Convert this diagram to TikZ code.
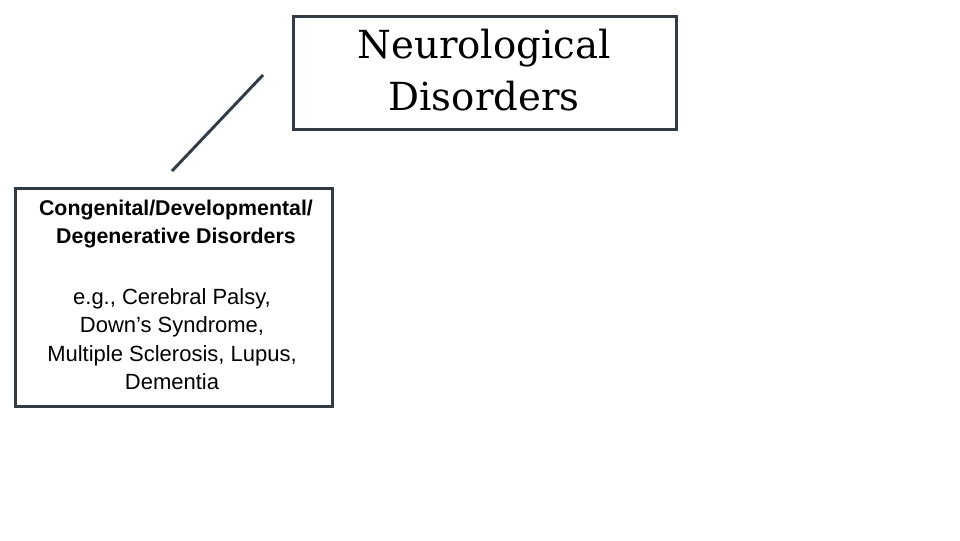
\documentclass[tikz,border=0pt]{standalone}
\usepackage{fontspec}
\setmainfont{Liberation Sans}
\newfontfamily\serifx{DejaVu Serif}
\definecolor{boxc}{HTML}{343A44}
\begin{document}
\begin{tikzpicture}[x=0.75pt,y=-0.75pt,
  boxs/.style={draw=boxc,line width=2.2pt,inner sep=0pt}]
\useasboundingbox (0,0) rectangle (960,540);
\node[boxs,minimum width=383*0.75pt,minimum height=113*0.75pt,anchor=north west] (top) at (292,15) {};
\node[align=center,font=\serifx\fontsize{29}{39}\selectfont,anchor=center] (toptxt) at (484,70) {Neurological\\Disorders};
\node[boxs,minimum width=317*0.75pt,minimum height=218*0.75pt,anchor=north west] (left) at (14,187) {};
\node[align=center,font=\bfseries\fontsize{16}{21}\selectfont,anchor=center] (lt) at (176,224) {Congenital/Developmental/\\Degenerative Disorders};
\node[align=center,font=\fontsize{16.5}{21.4}\selectfont,anchor=center] (lb) at (172,339) {e.g., Cerebral Palsy,\\Down’s Syndrome,\\Multiple Sclerosis, Lupus,\\Dementia};
\coordinate (a) at (263,75);
\coordinate (b) at (172,171);
\draw[draw=boxc,line width=2.2pt] (a) -- (b);
\end{tikzpicture}
\end{document}
